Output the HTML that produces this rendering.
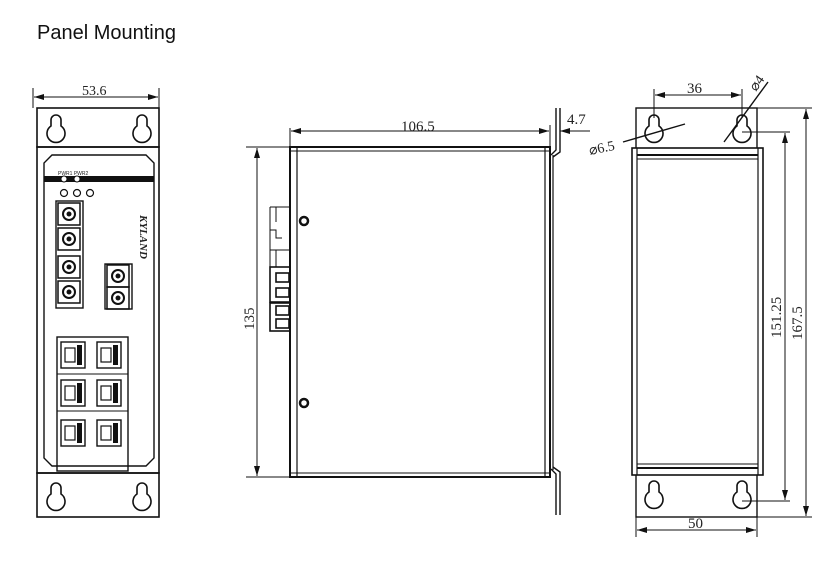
<!DOCTYPE html>
<html><head><meta charset="utf-8"><style>
body{margin:0;background:#fff;}
svg{display:block;}
text{font-family:"Liberation Serif",serif;fill:#222;}
</style></head><body>
<svg width="836" height="563" viewBox="0 0 836 563" xmlns="http://www.w3.org/2000/svg">
<defs>
<marker id="a" viewBox="0 0 10 6" refX="10" refY="3" markerWidth="10" markerHeight="6" orient="auto-start-reverse"><path d="M0,0 L10,3 L0,6 Z" fill="#111"/></marker>
<g id="kh"><path d="M-5,-10 A5,5 0 0 1 5,-10 L5,-4 A9,9 0 1 1 -5,-4 Z" fill="none" stroke="#111" stroke-width="1.6"/></g>
<g id="sc"><rect x="0" y="0" width="22" height="22" fill="none" stroke="#111" stroke-width="1.5"/><circle cx="11" cy="11" r="6" fill="none" stroke="#111" stroke-width="2"/><circle cx="11" cy="11" r="2.5" fill="#111"/></g>
<g id="rj"><rect x="0" y="0" width="24" height="26" fill="none" stroke="#111" stroke-width="1.4"/><rect x="4" y="6" width="10" height="14" fill="none" stroke="#111" stroke-width="1.2"/><rect x="16" y="3" width="5" height="20" fill="#111"/></g>
</defs>
<text x="37" y="39" style="font-family:'Liberation Sans',sans-serif;font-size:20px;fill:#111">Panel Mounting</text>

<!-- LEFT VIEW -->
<g stroke="#111" fill="none">
<line x1="33" y1="88" x2="33" y2="108" stroke-width="1"/>
<line x1="159" y1="88" x2="159" y2="108" stroke-width="1"/>
<line x1="34" y1="97" x2="158" y2="97" stroke-width="1" marker-start="url(#a)" marker-end="url(#a)"/>
<rect x="37" y="108" width="122" height="39" stroke-width="1.6"/>
<rect x="37" y="147" width="122" height="326" stroke-width="1.6"/>
<rect x="37" y="473" width="122" height="44" stroke-width="1.6"/>
<path d="M52,155 L146,155 L154,163 L154,458 L146,466 L52,466 L44,458 L44,163 Z" stroke-width="1.4"/>
</g>
<text x="82" y="95" font-size="14">53.6</text>
<use href="#kh" x="56" y="130"/><use href="#kh" x="142" y="130"/>
<use href="#kh" x="56" y="498"/><use href="#kh" x="142" y="498"/>
<rect x="44" y="176" width="110" height="6" fill="#111"/>
<circle cx="64" cy="179" r="3" fill="#fff" stroke="#111"/><circle cx="77" cy="179" r="3" fill="#fff" stroke="#111"/>
<g fill="none" stroke="#111" stroke-width="1.2"><circle cx="64" cy="193" r="3.5"/><circle cx="77" cy="193" r="3.5"/><circle cx="90" cy="193" r="3.5"/></g>
<text x="58" y="175" font-size="5" style="font-family:'Liberation Sans',sans-serif">PWR1 PWR2</text>
<rect x="56" y="201" width="27" height="107" fill="none" stroke="#111" stroke-width="1.4"/>
<use href="#sc" x="58" y="203"/><use href="#sc" x="58" y="228"/><use href="#sc" x="58" y="256"/><use href="#sc" x="58" y="281"/>
<rect x="105" y="264" width="27" height="45" fill="none" stroke="#111" stroke-width="1.4"/>
<use href="#sc" x="107" y="265"/><use href="#sc" x="107" y="287"/>
<text x="0" y="0" font-size="11" font-weight="bold" font-style="italic" transform="translate(140,215) rotate(90)">KYLAND</text>
<rect x="57" y="337" width="71" height="134" fill="none" stroke="#111" stroke-width="1.4"/>
<line x1="57" y1="374" x2="128" y2="374" stroke="#111"/><line x1="57" y1="411" x2="128" y2="411" stroke="#111"/>
<use href="#rj" x="61" y="342"/><use href="#rj" x="97" y="342"/>
<use href="#rj" x="61" y="380"/><use href="#rj" x="97" y="380"/>
<use href="#rj" x="61" y="420"/><use href="#rj" x="97" y="420"/>

<!-- MIDDLE VIEW -->
<g stroke="#111" fill="none">
<line x1="290" y1="128" x2="290" y2="147" stroke-width="1"/>
<line x1="291" y1="131" x2="549" y2="131" stroke-width="1" marker-start="url(#a)" marker-end="url(#a)"/>
<line x1="550" y1="125" x2="550" y2="147" stroke-width="1"/>
<line x1="560" y1="131" x2="590" y2="131" stroke-width="1" marker-start="url(#a)"/>
<rect x="290" y="147" width="260" height="330" stroke-width="2"/>
<line x1="297" y1="147" x2="297" y2="477" stroke-width="1.2"/>
<line x1="290" y1="151" x2="550" y2="151" stroke-width="1"/>
<line x1="290" y1="473" x2="550" y2="473" stroke-width="1"/>
<line x1="545" y1="147" x2="545" y2="477" stroke-width="1.2"/>
<path d="M556,108 L556,150 L551,155 M560,108 L560,152 L553,157" stroke-width="1.4"/>
<path d="M553,155 L553,470" stroke-width="1.2"/>
<path d="M551,469 L556,474 L556,515 M553,467 L560,472 L560,515" stroke-width="1.4"/>
<line x1="246" y1="147" x2="290" y2="147" stroke-width="1"/>
<line x1="246" y1="477" x2="290" y2="477" stroke-width="1"/>
<line x1="257" y1="148" x2="257" y2="476" stroke-width="1" marker-start="url(#a)" marker-end="url(#a)"/>
<path d="M270,207 L290,207 M270,207 L270,267 M276,207 L276,222 M270,230 L276,230 L276,238 L282,238 M270,250 L290,250 M276,250 L276,267" stroke-width="1"/>
<rect x="270" y="267" width="20" height="35" stroke-width="1.6"/>
<rect x="276" y="273" width="13" height="9" stroke-width="1.6"/>
<rect x="276" y="288" width="13" height="9" stroke-width="1.6"/>
<rect x="270" y="303" width="20" height="28" stroke-width="1.6"/>
<rect x="276" y="306" width="13" height="9" stroke-width="1.6"/>
<rect x="276" y="319" width="13" height="9" stroke-width="1.6"/>
<circle cx="304" cy="221" r="4" stroke-width="2.5"/>
<circle cx="304" cy="403" r="4" stroke-width="2.5"/>
</g>
<text x="401" y="131" font-size="15">106.5</text>
<text x="567" y="124" font-size="15">4.7</text>
<text x="0" y="0" font-size="15" transform="translate(254,330) rotate(-90)">135</text>

<!-- RIGHT VIEW -->
<g stroke="#111" fill="none">
<rect x="636" y="108" width="121" height="409" stroke-width="1.4"/>
<rect x="632" y="148" width="131" height="327" fill="#fff" stroke-width="1.6"/>
<line x1="637" y1="148" x2="637" y2="475" stroke-width="1.2"/>
<line x1="758" y1="148" x2="758" y2="475" stroke-width="1.2"/>
<line x1="637" y1="155" x2="758" y2="155" stroke-width="2"/>
<line x1="637" y1="159" x2="758" y2="159" stroke-width="1"/>
<line x1="637" y1="464" x2="758" y2="464" stroke-width="1"/>
<line x1="637" y1="468" x2="758" y2="468" stroke-width="2"/>
<line x1="654" y1="89" x2="654" y2="118" stroke-width="1"/>
<line x1="742" y1="89" x2="742" y2="118" stroke-width="1"/>
<line x1="655" y1="95" x2="741" y2="95" stroke-width="1" marker-start="url(#a)" marker-end="url(#a)"/>
<line x1="757" y1="108" x2="812" y2="108" stroke-width="1"/>
<line x1="757" y1="517" x2="812" y2="517" stroke-width="1"/>
<line x1="806" y1="109" x2="806" y2="516" stroke-width="1" marker-start="url(#a)" marker-end="url(#a)"/>
<line x1="742" y1="132" x2="790" y2="132" stroke-width="1"/>
<line x1="742" y1="501" x2="790" y2="501" stroke-width="1"/>
<line x1="785" y1="133" x2="785" y2="500" stroke-width="1" marker-start="url(#a)" marker-end="url(#a)"/>
<line x1="636" y1="517" x2="636" y2="537" stroke-width="1"/>
<line x1="757" y1="517" x2="757" y2="537" stroke-width="1"/>
<line x1="637" y1="530" x2="756" y2="530" stroke-width="1" marker-start="url(#a)" marker-end="url(#a)"/>
<line x1="623" y1="142" x2="685" y2="124" stroke-width="1.4"/>
<line x1="724" y1="142" x2="768" y2="82" stroke-width="1.4"/>
</g>
<use href="#kh" x="654" y="130"/><use href="#kh" x="742" y="130"/>
<use href="#kh" x="654" y="496"/><use href="#kh" x="742" y="496"/>
<text x="687" y="93" font-size="15">36</text>
<text x="590" y="155" font-size="14" transform="rotate(-12 590 155)">⌀6.5</text>
<text x="0" y="0" font-size="14" transform="translate(756,92) rotate(-55)">⌀4</text>
<text x="0" y="0" font-size="15" transform="translate(781,338) rotate(-90)">151.25</text>
<text x="0" y="0" font-size="15" transform="translate(802,340) rotate(-90)">167.5</text>
<text x="688" y="528" font-size="15">50</text>
</svg>
</body></html>
